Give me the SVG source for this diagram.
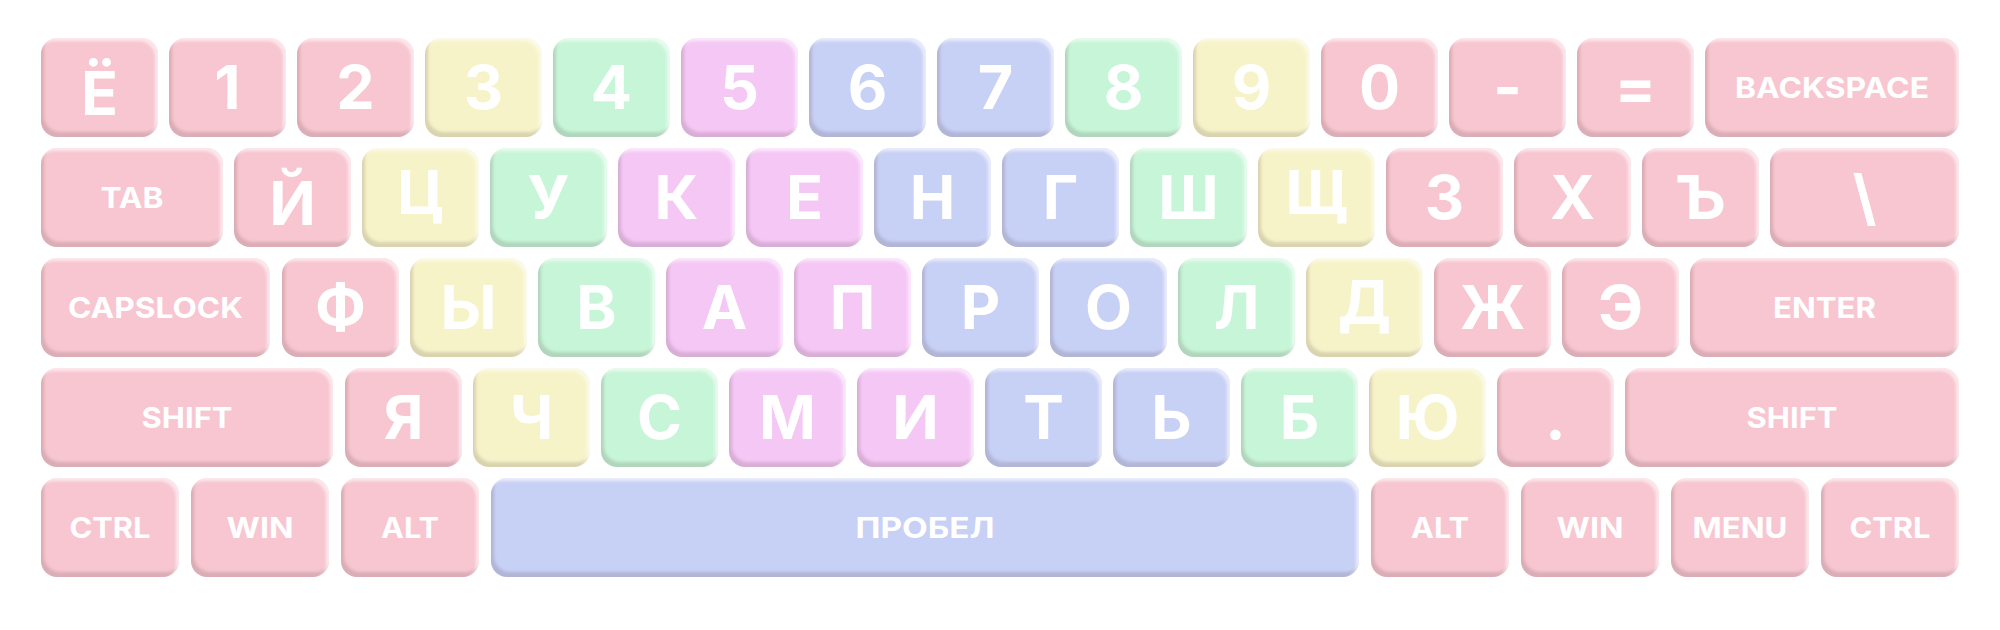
<svg xmlns="http://www.w3.org/2000/svg" width="2000" height="630" viewBox="0 0 2000 630">
<style>
.k{filter:url(#bevel)}
.p{fill:#F7C6D0}.y{fill:#F7F3C9}.g{fill:#C7F5D7}.m{fill:#F5C7F5}.b{fill:#C7D0F5}
text{fill:#fff;font-family:Inter,"Open Sans","Liberation Sans",sans-serif;font-weight:700;text-anchor:middle}
.t{font-size:61px}
.s{font-size:29px}
</style>
<defs>
<filter id="bevel" x="-5%" y="-10%" width="110%" height="120%">
<feGaussianBlur in="SourceAlpha" stdDeviation="1.6" result="b"/>
<feOffset in="b" dx="3" dy="-5" result="o1"/>
<feComposite in="SourceAlpha" in2="o1" operator="out" result="band1"/>
<feFlood flood-color="#5a3040" flood-opacity="0.28"/>
<feComposite in2="band1" operator="in" result="shadow"/>
<feOffset in="b" dx="-3" dy="3" result="o2"/>
<feComposite in="SourceAlpha" in2="o2" operator="out" result="band2"/>
<feFlood flood-color="#fff" flood-opacity="0.55"/>
<feComposite in2="band2" operator="in" result="hl"/>
<feMerge><feMergeNode in="SourceGraphic"/><feMergeNode in="shadow"/><feMergeNode in="hl"/></feMerge>
</filter>
</defs>
<rect width="2000" height="630" fill="#fff"/>
<!-- Row 1 -->
<g id="key-yo"><rect class="k p" x="41" y="38" width="117" height="99" rx="16"/><text class="t" x="99.5" y="115">Ё</text></g>
<g id="key-1"><rect class="k p" x="169" y="38" width="117" height="99" rx="16"/><text class="t" x="227.5" y="109">1</text></g>
<g id="key-2"><rect class="k p" x="297" y="38" width="117" height="99" rx="16"/><text class="t" x="355.5" y="109">2</text></g>
<g id="key-3"><rect class="k y" x="425" y="38" width="117" height="99" rx="16"/><text class="t" x="483.5" y="109">3</text></g>
<g id="key-4"><rect class="k g" x="553" y="38" width="117" height="99" rx="16"/><text class="t" x="611.5" y="109">4</text></g>
<g id="key-5"><rect class="k m" x="681" y="38" width="117" height="99" rx="16"/><text class="t" x="739.5" y="109">5</text></g>
<g id="key-6"><rect class="k b" x="809" y="38" width="117" height="99" rx="16"/><text class="t" x="867.5" y="109">6</text></g>
<g id="key-7"><rect class="k b" x="937" y="38" width="117" height="99" rx="16"/><text class="t" x="995.5" y="109">7</text></g>
<g id="key-8"><rect class="k g" x="1065" y="38" width="117" height="99" rx="16"/><text class="t" x="1123.5" y="109">8</text></g>
<g id="key-9"><rect class="k y" x="1193" y="38" width="117" height="99" rx="16"/><text class="t" x="1251.5" y="109">9</text></g>
<g id="key-0"><rect class="k p" x="1321" y="38" width="117" height="99" rx="16"/><text class="t" x="1379.5" y="109">0</text></g>
<g id="key-minus"><rect class="k p" x="1449" y="38" width="117" height="99" rx="16"/><text class="t" x="1507.5" y="109">-</text></g>
<g id="key-equal"><rect class="k p" x="1577" y="38" width="117" height="99" rx="16"/><text class="t" x="1635.5" y="109">=</text></g>
<g id="key-backspace"><rect class="k p" x="1705" y="38" width="254" height="99" rx="16"/><text class="s" x="1832" y="98" textLength="194" lengthAdjust="spacingAndGlyphs">BACKSPACE</text></g>
<!-- Row 2 -->
<g id="key-tab"><rect class="k p" x="41" y="148" width="182" height="99" rx="16"/><text class="s" x="132" y="208" textLength="63" lengthAdjust="spacingAndGlyphs">TAB</text></g>
<g id="key-j"><rect class="k p" x="234" y="148" width="117" height="99" rx="16"/><text class="t" x="292.5" y="225">Й</text></g>
<g id="key-ts"><rect class="k y" x="362" y="148" width="117" height="99" rx="16"/><text class="t" x="420.5" y="214">Ц</text></g>
<g id="key-u"><rect class="k g" x="490" y="148" width="117" height="99" rx="16"/><text class="t" x="548.5" y="219">У</text></g>
<g id="key-k"><rect class="k m" x="618" y="148" width="117" height="99" rx="16"/><text class="t" x="676.5" y="219">К</text></g>
<g id="key-e"><rect class="k m" x="746" y="148" width="117" height="99" rx="16"/><text class="t" x="804.5" y="219">Е</text></g>
<g id="key-n"><rect class="k b" x="874" y="148" width="117" height="99" rx="16"/><text class="t" x="932.5" y="219">Н</text></g>
<g id="key-g"><rect class="k b" x="1002" y="148" width="117" height="99" rx="16"/><text class="t" x="1060.5" y="219">Г</text></g>
<g id="key-sh"><rect class="k g" x="1130" y="148" width="117" height="99" rx="16"/><text class="t" x="1188.5" y="219">Ш</text></g>
<g id="key-shch"><rect class="k y" x="1258" y="148" width="117" height="99" rx="16"/><text class="t" x="1316.5" y="214">Щ</text></g>
<g id="key-z"><rect class="k p" x="1386" y="148" width="117" height="99" rx="16"/><text class="t" x="1444.5" y="219">З</text></g>
<g id="key-h"><rect class="k p" x="1514" y="148" width="117" height="99" rx="16"/><text class="t" x="1572.5" y="219">Х</text></g>
<g id="key-hard"><rect class="k p" x="1642" y="148" width="117" height="99" rx="16"/><text class="t" x="1700.5" y="219">Ъ</text></g>
<g id="key-backslash"><rect class="k p" x="1770" y="148" width="189" height="99" rx="16"/><text class="t" x="1864.5" y="219">\</text></g>
<!-- Row 3 -->
<g id="key-capslock"><rect class="k p" x="41" y="258" width="229" height="99" rx="16"/><text class="s" x="155.5" y="318" textLength="175" lengthAdjust="spacingAndGlyphs">CAPSLOCK</text></g>
<g id="key-f"><rect class="k p" x="282" y="258" width="117" height="99" rx="16"/><text class="t" x="340.5" y="329">Ф</text></g>
<g id="key-y"><rect class="k y" x="410" y="258" width="117" height="99" rx="16"/><text class="t" x="468.5" y="329">Ы</text></g>
<g id="key-v"><rect class="k g" x="538" y="258" width="117" height="99" rx="16"/><text class="t" x="596.5" y="329">В</text></g>
<g id="key-a"><rect class="k m" x="666" y="258" width="117" height="99" rx="16"/><text class="t" x="724.5" y="329">А</text></g>
<g id="key-p"><rect class="k m" x="794" y="258" width="117" height="99" rx="16"/><text class="t" x="852.5" y="329">П</text></g>
<g id="key-r"><rect class="k b" x="922" y="258" width="117" height="99" rx="16"/><text class="t" x="980.5" y="329">Р</text></g>
<g id="key-o"><rect class="k b" x="1050" y="258" width="117" height="99" rx="16"/><text class="t" x="1108.5" y="329">О</text></g>
<g id="key-l"><rect class="k g" x="1178" y="258" width="117" height="99" rx="16"/><text class="t" x="1236.5" y="329">Л</text></g>
<g id="key-d"><rect class="k y" x="1306" y="258" width="117" height="99" rx="16"/><text class="t" x="1364.5" y="324">Д</text></g>
<g id="key-zh"><rect class="k p" x="1434" y="258" width="117" height="99" rx="16"/><text class="t" x="1492.5" y="329">Ж</text></g>
<g id="key-eh"><rect class="k p" x="1562" y="258" width="117" height="99" rx="16"/><text class="t" x="1620.5" y="329">Э</text></g>
<g id="key-enter"><rect class="k p" x="1690" y="258" width="269" height="99" rx="16"/><text class="s" x="1824.5" y="318" textLength="103" lengthAdjust="spacingAndGlyphs">ENTER</text></g>
<!-- Row 4 -->
<g id="key-lshift"><rect class="k p" x="41" y="368" width="292" height="99" rx="16"/><text class="s" x="187" y="428" textLength="91" lengthAdjust="spacingAndGlyphs">SHIFT</text></g>
<g id="key-ya"><rect class="k p" x="345" y="368" width="117" height="99" rx="16"/><text class="t" x="403.5" y="439">Я</text></g>
<g id="key-ch"><rect class="k y" x="473" y="368" width="117" height="99" rx="16"/><text class="t" x="531.5" y="439">Ч</text></g>
<g id="key-s"><rect class="k g" x="601" y="368" width="117" height="99" rx="16"/><text class="t" x="659.5" y="439">С</text></g>
<g id="key-m"><rect class="k m" x="729" y="368" width="117" height="99" rx="16"/><text class="t" x="787.5" y="439">М</text></g>
<g id="key-i"><rect class="k m" x="857" y="368" width="117" height="99" rx="16"/><text class="t" x="915.5" y="439">И</text></g>
<g id="key-t"><rect class="k b" x="985" y="368" width="117" height="99" rx="16"/><text class="t" x="1043.5" y="439">Т</text></g>
<g id="key-soft"><rect class="k b" x="1113" y="368" width="117" height="99" rx="16"/><text class="t" x="1171.5" y="439">Ь</text></g>
<g id="key-b"><rect class="k g" x="1241" y="368" width="117" height="99" rx="16"/><text class="t" x="1299.5" y="439">Б</text></g>
<g id="key-yu"><rect class="k y" x="1369" y="368" width="117" height="99" rx="16"/><text class="t" x="1427.5" y="439">Ю</text></g>
<g id="key-period"><rect class="k p" x="1497" y="368" width="117" height="99" rx="16"/><text class="t" x="1555.5" y="439">.</text></g>
<g id="key-rshift"><rect class="k p" x="1625" y="368" width="334" height="99" rx="16"/><text class="s" x="1792" y="428" textLength="91" lengthAdjust="spacingAndGlyphs">SHIFT</text></g>
<!-- Row 5 -->
<g id="key-lctrl"><rect class="k p" x="41" y="478" width="138" height="99" rx="16"/><text class="s" x="110" y="538" textLength="81" lengthAdjust="spacingAndGlyphs">CTRL</text></g>
<g id="key-lwin"><rect class="k p" x="191" y="478" width="138" height="99" rx="16"/><text class="s" x="260" y="538" textLength="67" lengthAdjust="spacingAndGlyphs">WIN</text></g>
<g id="key-lalt"><rect class="k p" x="341" y="478" width="138" height="99" rx="16"/><text class="s" x="410" y="538" textLength="58" lengthAdjust="spacingAndGlyphs">ALT</text></g>
<g id="key-space"><rect class="k b" x="491" y="478" width="868" height="99" rx="16"/><text class="s" x="925" y="538" textLength="139" lengthAdjust="spacingAndGlyphs">ПРОБЕЛ</text></g>
<g id="key-ralt"><rect class="k p" x="1371" y="478" width="138" height="99" rx="16"/><text class="s" x="1440" y="538" textLength="58" lengthAdjust="spacingAndGlyphs">ALT</text></g>
<g id="key-rwin"><rect class="k p" x="1521" y="478" width="138" height="99" rx="16"/><text class="s" x="1590" y="538" textLength="67" lengthAdjust="spacingAndGlyphs">WIN</text></g>
<g id="key-menu"><rect class="k p" x="1671" y="478" width="138" height="99" rx="16"/><text class="s" x="1740" y="538" textLength="95" lengthAdjust="spacingAndGlyphs">MENU</text></g>
<g id="key-rctrl"><rect class="k p" x="1821" y="478" width="138" height="99" rx="16"/><text class="s" x="1890" y="538" textLength="81" lengthAdjust="spacingAndGlyphs">CTRL</text></g>
</svg>
